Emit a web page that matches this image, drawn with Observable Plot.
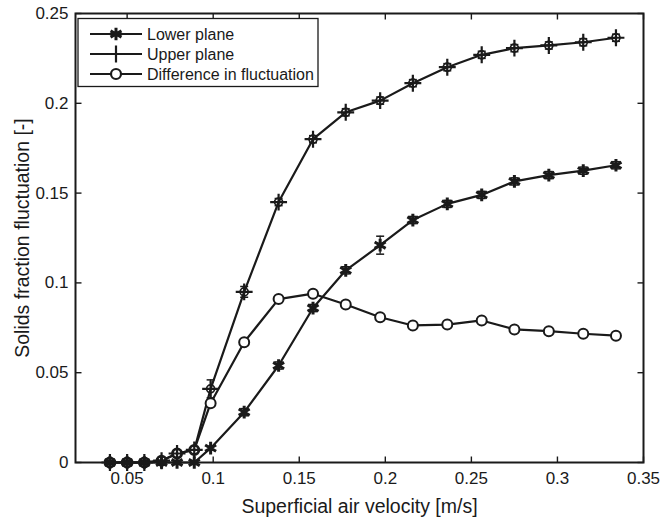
<!DOCTYPE html>
<html><head><meta charset="utf-8">
<script src="https://cdn.jsdelivr.net/npm/d3@7"></script>
<script src="https://cdn.jsdelivr.net/npm/@observablehq/plot@0.6"></script>
<style>body{margin:0;background:#fff} #chart{width:660px;height:519px}</style>
</head><body><div id="chart"></div>
<script>
const velocity   = [0.040,0.050,0.060,0.070,0.079,0.089,0.0985,0.118,0.138,0.158,0.177,0.197,0.216,0.236,0.256,0.275,0.295,0.315,0.334];
const lowerPlane = [0,0,0,0,0,0,0.008,0.028,0.054,0.086,0.107,0.121,0.135,0.144,0.149,0.1565,0.160,0.1625,0.1655];
const lowerErr   = [0,0,0,0,0,0,0.001,0.002,0.002,0.002,0.002,0.005,0.002,0.002,0.002,0.002,0.002,0.002,0.002];
const upperPlane = [0,0,0,0.001,0.005,0.007,0.041,0.095,0.145,0.180,0.195,0.2015,0.2112,0.2201,0.227,0.2307,0.2322,0.234,0.2365];
const upperErr   = [0,0,0,0,0,0,0.005,0.003,0.002,0.002,0.002,0.002,0.002,0.002,0.002,0.002,0.002,0.002,0.002];
const difference = [0,0,0,0.001,0.005,0.007,0.033,0.067,0.091,0.094,0.088,0.0809,0.0763,0.0768,0.0791,0.0741,0.0731,0.0717,0.0706];
const xTicks = [0.05,0.1,0.15,0.2,0.25,0.3,0.35];
const yTicks = [0,0.05,0.1,0.15,0.2,0.25];
const seriesNames = ["Lower plane","Upper plane","Difference in fluctuation"];

const lower = velocity.map((x,i)=>({x, y: lowerPlane[i], e: lowerErr[i]}));
const upper = velocity.map((x,i)=>({x, y: upperPlane[i], e: upperErr[i]}));
const diff  = velocity.map((x,i)=>({x, y: difference[i]}));

const rOf = size => Math.sqrt(size/Math.PI);
const hline = {draw(ctx, size){ const r = rOf(size); ctx.moveTo(-r,0); ctx.lineTo(r,0); }};
const tickUp = {draw(ctx, size){ ctx.moveTo(0,0); ctx.lineTo(0,-rOf(size)); }};
const tickDown = {draw(ctx, size){ ctx.moveTo(0,0); ctx.lineTo(0,rOf(size)); }};
const tickRight = {draw(ctx, size){ ctx.moveTo(0,0); ctx.lineTo(rOf(size),0); }};
const tickLeft = {draw(ctx, size){ ctx.moveTo(0,0); ctx.lineTo(-rOf(size),0); }};
const fmt = d => String(d);
const ink = "#1a1a1a";
const font = "'Liberation Sans', Arial, sans-serif";

const chart = Plot.plot({
  width: 660, height: 519,
  marginLeft: 75, marginRight: 17, marginTop: 13, marginBottom: 57,
  style: {fontFamily: font, background: "#fff", color: ink},
  x: {domain: [0.02, 0.35]},
  y: {domain: [0, 0.25]},
  marks: [
    // error bars
    Plot.ruleX(lower.filter(d=>d.e>0), {x:"x", y1: d=>d.y-d.e, y2: d=>d.y+d.e, stroke: ink, strokeWidth: 1.3}),
    Plot.dot(lower.filter(d=>d.e>0), {x:"x", y: d=>d.y-d.e, symbol: hline, r: 4, stroke: ink, strokeWidth: 1.5}),
    Plot.dot(lower.filter(d=>d.e>0), {x:"x", y: d=>d.y+d.e, symbol: hline, r: 4, stroke: ink, strokeWidth: 1.5}),
    Plot.ruleX(upper.filter(d=>d.e>0), {x:"x", y1: d=>d.y-d.e, y2: d=>d.y+d.e, stroke: ink, strokeWidth: 1.3}),
    Plot.dot(upper.filter(d=>d.e>0), {x:"x", y: d=>d.y-d.e, symbol: hline, r: 4, stroke: ink, strokeWidth: 1.5}),
    Plot.dot(upper.filter(d=>d.e>0), {x:"x", y: d=>d.y+d.e, symbol: hline, r: 4, stroke: ink, strokeWidth: 1.5}),
    // lines
    Plot.line(lower, {x:"x", y:"y", stroke: ink, strokeWidth: 2.2}),
    Plot.line(upper, {x:"x", y:"y", stroke: ink, strokeWidth: 2.2}),
    Plot.line(diff, {x:"x", y:"y", stroke: ink, strokeWidth: 2.2}),
    // markers
    Plot.dot(diff, {x:"x", y:"y", symbol: "circle", r: 5, stroke: ink, fill: "white", strokeWidth: 2}),
    Plot.dot(lower, {x:"x", y:"y", symbol: "asterisk", r: 6, stroke: ink, strokeWidth: 3}),
    Plot.dot(upper, {x:"x", y:"y", symbol: "circle", r: 4, stroke: ink, fill: "none", strokeWidth: 1.7}),
    Plot.dot(upper, {x:"x", y:"y", symbol: "plus", r: 5.5, stroke: ink, strokeWidth: 2.2}),
    // tick labels
    Plot.axisX({anchor: "bottom", ticks: xTicks, tickSize: 0, tickPadding: 9, tickFormat: fmt, fontSize: 17, label: null}),
    Plot.axisY({anchor: "left", ticks: yTicks, tickSize: 0, tickPadding: 7, tickFormat: fmt, fontSize: 17, label: null}),
    // inward tick marks on all four sides
    Plot.dot(xTicks, {x: d=>d, frameAnchor: "bottom", symbol: tickUp, r: 6, stroke: ink, strokeWidth: 1.4}),
    Plot.dot(xTicks, {x: d=>d, frameAnchor: "top", symbol: tickDown, r: 6, stroke: ink, strokeWidth: 1.4}),
    Plot.dot(yTicks, {y: d=>d, frameAnchor: "left", symbol: tickRight, r: 6, stroke: ink, strokeWidth: 1.4}),
    Plot.dot(yTicks, {y: d=>d, frameAnchor: "right", symbol: tickLeft, r: 6, stroke: ink, strokeWidth: 1.4}),
    Plot.frame({stroke: ink, strokeWidth: 2}),
    Plot.text(["Superficial air velocity [m/s]"], {frameAnchor: "bottom", dy: 44, textAnchor: "middle", lineAnchor: "middle", fontSize: 19.5, fill: ink}),
    Plot.text(["Solids fraction fluctuation [-]"], {frameAnchor: "left", dx: -53, rotate: -90, textAnchor: "middle", lineAnchor: "middle", fontSize: 19.5, fill: ink})
  ]
});
document.getElementById("chart").appendChild(chart);

// legend
const svg = d3.select(chart);
const lg = svg.append("g").attr("font-family", font);
lg.append("rect").attr("x", 78).attr("y", 18.5).attr("width", 240).attr("height", 68)
  .attr("fill", "white").attr("stroke", ink).attr("stroke-width", 1.3);
const rows = [34, 54, 74];
const symbols = [d3.symbolAsterisk, d3.symbolPlus, d3.symbolCircle];
seriesNames.forEach((name, i) => {
  const y = rows[i];
  lg.append("line").attr("x1", 90).attr("x2", 142).attr("y1", y).attr("y2", y).attr("stroke", ink).attr("stroke-width", 2.2);
  const s = [36*Math.PI, 30*Math.PI, 25*Math.PI][i];
  lg.append("path").attr("d", d3.symbol(symbols[i], s)()).attr("transform", `translate(116,${y})`)
    .attr("stroke", ink).attr("stroke-width", i===0?3:2.2).attr("fill", i===2?"white":"none");
  lg.append("text").attr("x", 147).attr("y", y).attr("dy", "0.35em").attr("text-anchor", "start")
    .attr("font-size", 16).attr("fill", ink).text(name);
});
</script>
</body></html>
